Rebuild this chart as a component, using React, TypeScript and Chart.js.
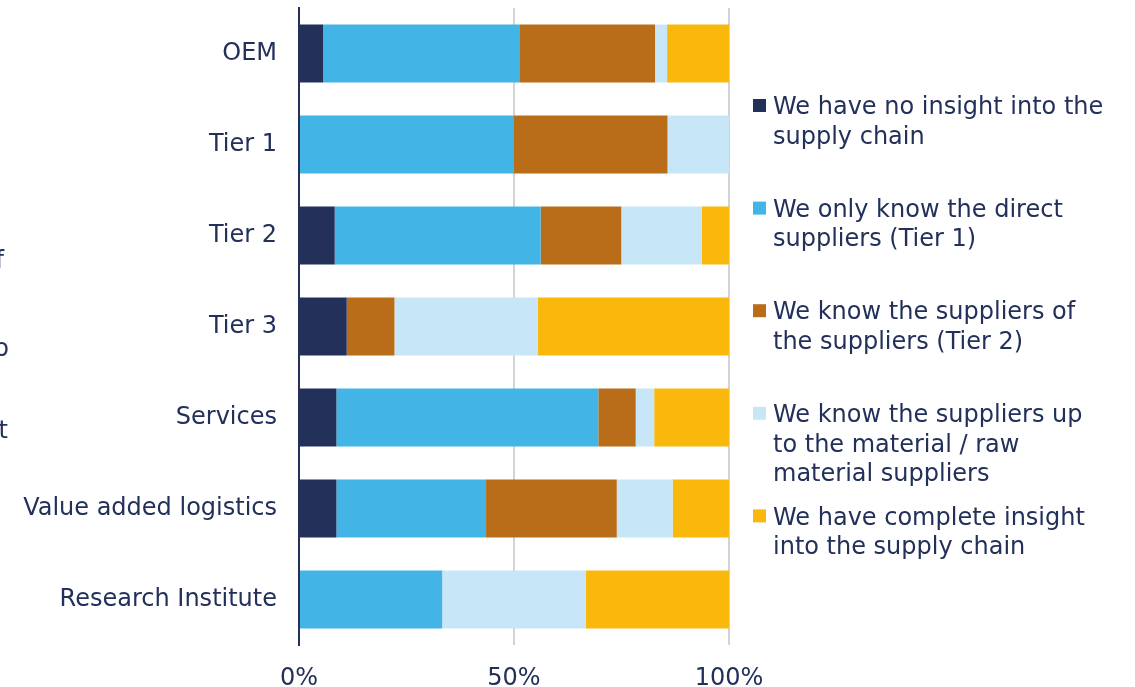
import React, { useEffect, useRef } from "react";
import { Chart, registerables } from "chart.js";

Chart.register(...registerables);

const categories = ["OEM", "Tier 1", "Tier 2", "Tier 3", "Services", "Value added logistics", "Research Institute"];
const seriesLabels = [
  ["We have no insight into the", "supply chain"],
  ["We only know the direct", "suppliers (Tier 1)"],
  ["We know the suppliers of", "the suppliers (Tier 2)"],
  ["We know the suppliers up", "to the material / raw", "material suppliers"],
  ["We have complete insight", "into the supply chain"],
];
const noInsight = [5.6, 0, 8.3, 11.1, 8.7, 8.7, 0];
const directOnly = [45.8, 50, 47.9, 0, 60.9, 34.8, 33.3];
const tier2 = [31.4, 35.7, 18.75, 11.1, 8.7, 30.4, 0];
const rawMaterial = [2.8, 14.3, 18.75, 33.3, 4.3, 13.0, 33.4];
const complete = [14.4, 0, 6.3, 44.5, 17.4, 13.1, 33.3];
const xTicks = [0, 50, 100];
const sideFragments = ["of", "to", "at"];

const colors = ["#22305A", "#42B5E6", "#BA6D18", "#C7E7F8", "#FAB80D"];
const textColor = "#22305A";
const font = "DejaVu Sans, Verdana, sans-serif";
const fontSize = 24;

export default function App() {
  const ref = useRef<HTMLCanvasElement>(null);
  useEffect(() => {
    const legendPlugin = {
      id: "customLegend",
      afterDraw(chart: any) {
        const ctx = chart.ctx;
        ctx.save();
        ctx.font = `${fontSize}px ${font}`;
        ctx.textBaseline = "middle";
        ctx.textAlign = "left";
        seriesLabels.forEach((lines, i) => {
          const y0 = 106 + i * 102.6;
          ctx.fillStyle = colors[i];
          ctx.fillRect(753, y0 - 7, 13, 13);
          ctx.fillStyle = textColor;
          lines.forEach((l, j) => ctx.fillText(l, 773, y0 + 2 + j * 29.5));
        });
        // cut-off fragments at the left edge
        ctx.textAlign = "right";
        const fx = [4, 9, 8];
        const fy = [262, 350, 432];
        sideFragments.forEach((t, i) => ctx.fillText(t, fx[i], fy[i]));
        ctx.restore();
      },
    };
    const chart = new Chart(ref.current!, {
      type: "bar",
      data: {
        labels: categories,
        datasets: [noInsight, directOnly, tier2, rawMaterial, complete].map((d, i) => ({
          label: seriesLabels[i].join(" "),
          data: d,
          backgroundColor: colors[i],
          borderWidth: 0,
          categoryPercentage: 1,
          barPercentage: 0.637,
        })),
      },
      options: {
        indexAxis: "y",
        animation: false,
        responsive: false,
        maintainAspectRatio: false,
        layout: { padding: { top: 8, right: 406, left: 0, bottom: 0 } },
        plugins: { legend: { display: false }, tooltip: { enabled: false } },
        scales: {
          x: {
            stacked: true,
            min: 0,
            max: 100,
            afterBuildTicks: (s: any) => {
              s.ticks = xTicks.map((v) => ({ value: v }));
            },
            afterFit: (s: any) => {
              s.height = 42;
              s.paddingLeft = 0;
              s.paddingRight = 0;
            },
            ticks: {
              callback: (v: any) => v + "%",
              color: textColor,
              font: { family: font, size: fontSize },
              padding: 19,
              maxRotation: 0,
            },
            grid: {
              color: (c: any) => (c.tick && c.tick.value === 0 ? "rgba(0,0,0,0)" : "#D0D3D8"),
              lineWidth: 2,
              drawTicks: false,
            },
            border: { display: false },
          },
          y: {
            stacked: true,
            afterFit: (s: any) => {
              s.width = 299;
              s.paddingTop = 0;
              s.paddingBottom = 0;
            },
            ticks: {
              color: textColor,
              font: { family: font, size: fontSize },
              padding: 22,
            },
            grid: { display: false, drawTicks: false },
            border: { display: true, color: "#22305A", width: 2 },
          },
        },
      },
      plugins: [legendPlugin],
    });
    return () => chart.destroy();
  }, []);
  return (
    <div style={{ position: "absolute", left: 0, top: 0, width: 1135, height: 687, background: "#fff" }}>
      <canvas ref={ref} width={1135} height={687} style={{ display: "block" }} />
    </div>
  );
}
